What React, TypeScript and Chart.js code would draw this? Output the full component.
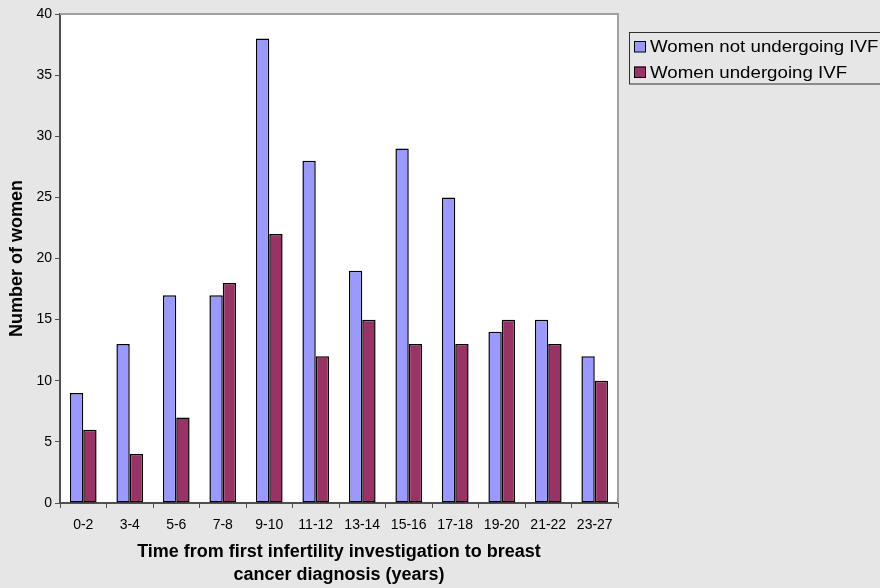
import React, { useEffect, useRef } from "react";
import { Chart, registerables } from "chart.js";

Chart.register(...registerables);

const categories = ["0-2", "3-4", "5-6", "7-8", "9-10", "11-12", "13-14", "15-16", "17-18", "19-20", "21-22", "23-27"];
const notIVF = [9, 13, 17, 17, 38, 28, 19, 29, 25, 14, 15, 12];
const withIVF = [6, 4, 7, 18, 22, 12, 15, 13, 13, 15, 13, 10];
const seriesLabels = ["Women not undergoing IVF", "Women undergoing IVF"];
const seriesColors = ["#9999FF", "#993366"];
const xTitle = ["Time from first infertility investigation to breast", "cancer diagnosis (years)"];
const yTitle = "Number of women";

const BG = "#E6E6E6";
const FONT = "'Liberation Sans', Arial, sans-serif";

const backgroundPlugin = {
  id: "bgPlugin",
  beforeDraw(chart: any) {
    const { ctx, chartArea } = chart;
    ctx.save();
    ctx.fillStyle = BG;
    ctx.fillRect(0, 0, chart.width, chart.height);
    ctx.fillStyle = "#FFFFFF";
    ctx.fillRect(chartArea.left, chartArea.top, chartArea.right - chartArea.left, chartArea.bottom - chartArea.top);
    ctx.restore();
  },
  afterDraw(chart: any) {
    const { ctx, chartArea } = chart;
    ctx.save();
    ctx.strokeStyle = "#A0A0A0";
    ctx.lineWidth = 2;
    ctx.beginPath();
    ctx.moveTo(chartArea.left, chartArea.top);
    ctx.lineTo(chartArea.right, chartArea.top);
    ctx.lineTo(chartArea.right, chartArea.bottom);
    ctx.stroke();
    // legend
    ctx.strokeStyle = "#303030";
    ctx.lineWidth = 1;
    ctx.strokeRect(629.5, 32.5, 270, 51.5);
    const ys = [46.5, 72];
    seriesLabels.forEach((label, i) => {
      const y = ys[i];
      ctx.fillStyle = seriesColors[i];
      ctx.fillRect(634, y - 5.5, 12, 11);
      ctx.strokeStyle = "#000";
      ctx.lineWidth = 1;
      ctx.strokeRect(634.5, y - 5, 11, 10.5);
      ctx.save();
      ctx.translate(650, y);
      ctx.scale(1.1, 1);
      ctx.fillStyle = "#000";
      ctx.font = `17px ${FONT}`;
      ctx.textBaseline = "middle";
      ctx.textAlign = "left";
      ctx.fillText(label, 0, 1);
      ctx.restore();
    });
    ctx.restore();
  },
};

export default function App() {
  const ref = useRef<HTMLCanvasElement>(null);
  useEffect(() => {
    if (!ref.current) return;
    const chart = new Chart(ref.current, {
      type: "bar",
      data: {
        labels: categories,
        datasets: [
          {
            label: seriesLabels[0],
            data: notIVF,
            backgroundColor: seriesColors[0],
            borderColor: "#000",
            borderWidth: 1.5,
            borderSkipped: false,
          },
          {
            label: seriesLabels[1],
            data: withIVF,
            backgroundColor: seriesColors[1],
            borderColor: "#000",
            borderWidth: 1.5,
            borderSkipped: false,
          },
        ],
      },
      options: {
        animation: false,
        responsive: false,
        devicePixelRatio: 1,
        layout: { padding: { top: 14, right: 262, left: 0, bottom: 0 } },
        datasets: { bar: { categoryPercentage: 0.574, barPercentage: 1.0 } },
        plugins: {
          legend: { display: false },
          tooltip: { enabled: false },
        },
        scales: {
          x: {
            grid: { offset: true, drawOnChartArea: false, tickLength: 5, color: "#505050", tickColor: "#505050", tickWidth: 1 },
            border: { display: true, color: "#505050", width: 2 },
            ticks: { color: "#000", font: { family: FONT, size: 14 }, padding: 9, maxRotation: 0, autoSkip: false },
            title: {
              display: true,
              text: xTitle,
              color: "#000",
              font: { family: FONT, size: 18, weight: "bold", lineHeight: "23px" },
              padding: { top: 0, bottom: 1 },
            },
            afterFit: (s: any) => {
              s.height = 85;
            },
          },
          y: {
            min: 0,
            max: 40,
            ticks: { stepSize: 5, color: "#000", font: { family: FONT, size: 14 }, padding: 3 },
            grid: { drawOnChartArea: false, tickLength: 5, color: "#505050", tickColor: "#505050" },
            border: { display: true, color: "#505050", width: 2 },
            title: {
              display: true,
              text: yTitle,
              color: "#000",
              font: { family: FONT, size: 18, weight: "bold" },
              padding: { top: 6, bottom: 0 },
            },
            afterFit: (s: any) => {
              s.width = 60;
            },
          },
        },
      },
      plugins: [backgroundPlugin],
    });
    return () => chart.destroy();
  }, []);
  return (
    <div style={{ position: "fixed", left: 0, top: 0, width: 880, height: 588 }}>
      <canvas ref={ref} width={880} height={588} style={{ display: "block" }} />
    </div>
  );
}
